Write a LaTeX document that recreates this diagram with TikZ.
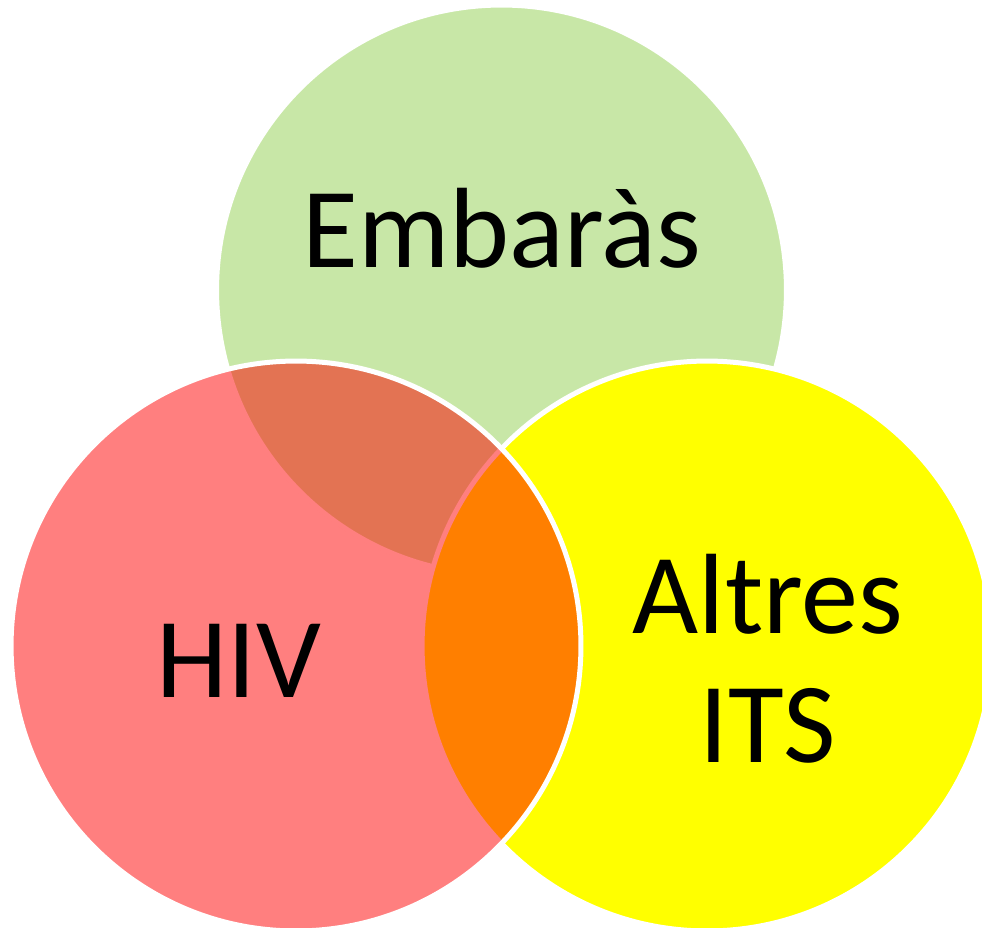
\documentclass[tikz,border=0pt]{standalone}
\usepackage{fontspec}
\setmainfont{Carlito}
\definecolor{setgreen}{HTML}{92D050}
\definecolor{setyellow}{HTML}{FFFF00}
\definecolor{setred}{HTML}{FF0000}
\begin{document}
\begin{tikzpicture}[x=0.02cm,y=-0.02cm,
	set/.style={circle,draw=white,line width=0.1cm,minimum size=11.4cm,inner sep=0pt},
	lbl/.style={font=\fontsize{65}{73}\selectfont,align=center,anchor=base,inner sep=0pt}]
	\useasboundingbox (0,0) rectangle (982,928);
	\node[set,fill=setgreen,fill opacity=0.5] (emb) at (501.5,290) {};
	\node[set,fill=setyellow] (its) at (707,646) {};
	\node[set,fill=setred,fill opacity=0.5] (hiv) at (296,646) {};
	\node[lbl] (embtext) at (502,268) {Embaràs};
	\node[lbl] (hivtext) at (239,697) {HIV};
	\node[lbl] (itstext) at (768,762) {Altres\\ITS};
\end{tikzpicture}
\end{document}
